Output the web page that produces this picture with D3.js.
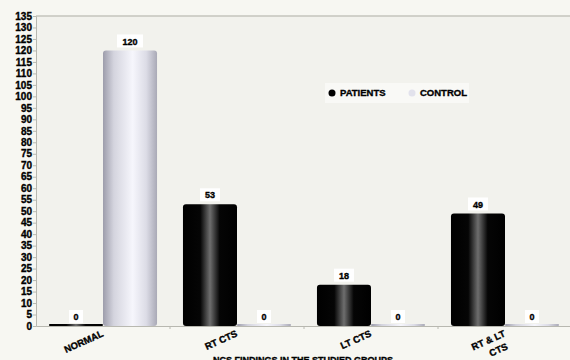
<!DOCTYPE html>
<html>
<head>
<meta charset="utf-8">
<script src="https://cdn.jsdelivr.net/npm/d3@7"></script>
<style>
  body { margin: 0; background: #f7f7f2; }
  svg { display: block; font-family: "Liberation Sans", Arial, sans-serif; font-weight: bold; }
  svg text { stroke: #000; stroke-width: 0.35px; }
</style>
</head>
<body>
<svg id="chart"></svg>
<script>
// chart data
var categories = ["NORMAL", "RT CTS", "LT CTS", "RT & LT CTS"];
var seriesNames = ["PATIENTS", "CONTROL"];
var patients = [0, 53, 18, 49];
var control = [120, 0, 0, 0];
var yTicks = d3.range(0, 136, 5);
var xTitle = "NCS FINDINGS IN THE STUDIED GROUPS";

var width = 570, height = 360;
var plotLeft = 36, plotRight = 572, plotTop = 16, plotBottom = 326;

var svg = d3.select("#chart").attr("width", width).attr("height", height);

// gradients for the cylinder look
var defs = svg.append("defs");
var gP = defs.append("linearGradient").attr("id", "gradP");
[[0, "#000"], [0.32, "#050505"], [0.5, "#6e6e6e"], [0.68, "#050505"], [1, "#000"]].forEach(function (s) {
    gP.append("stop").attr("offset", s[0]).attr("stop-color", s[1]);
});
var gC = defs.append("linearGradient").attr("id", "gradC");
[[0, "#9d9dab"], [0.2, "#d4d4de"], [0.55, "#f6f6fc"], [0.8, "#dcdce6"], [1, "#a9a9b6"]].forEach(function (s) {
    gC.append("stop").attr("offset", s[0]).attr("stop-color", s[1]);
});

// plot area background
svg.append("rect")
    .attr("x", plotLeft).attr("y", plotTop)
    .attr("width", plotRight - plotLeft).attr("height", plotBottom - plotTop)
    .attr("fill", "#f2f2ed");
svg.append("line")
    .attr("x1", plotLeft).attr("x2", plotRight).attr("y1", plotTop).attr("y2", plotTop)
    .attr("stroke", "#c4c4bc").attr("stroke-width", 1.5);

// scales
var x0 = d3.scaleBand().domain(categories).range([plotLeft, plotRight]).padding(0);
var x1 = d3.scaleBand().domain(seriesNames).range([0, x0.bandwidth()])
    .paddingInner(0).paddingOuter(0.24);
var y = d3.scaleLinear().domain([0, 135]).range([plotBottom, plotTop]);

// y axis
var yAxis = svg.append("g")
    .attr("transform", "translate(" + plotLeft + ",0)")
    .call(d3.axisLeft(y).tickValues(yTicks).tickSize(3).tickPadding(1));
yAxis.select(".domain").attr("stroke", "#b8b8b0");
yAxis.selectAll(".tick line").attr("stroke", "#b8b8b0");
yAxis.selectAll("text").attr("font-size", 10).attr("font-weight", "bold").attr("fill", "#000")
    .attr("font-family", "Liberation Sans, Arial, sans-serif");

// x axis
var xAxis = svg.append("g")
    .attr("transform", "translate(0," + plotBottom + ")")
    .call(d3.axisBottom(x0).tickSize(0).tickFormat(""));
xAxis.select(".domain").attr("stroke", "#b8b8b0");
svg.selectAll(".xtick")
    .data(categories.slice(1))
    .enter().append("line")
    .attr("x1", function (d) { return x0(d); })
    .attr("x2", function (d) { return x0(d); })
    .attr("y1", plotBottom).attr("y2", plotBottom + 3)
    .attr("stroke", "#b8b8b0");

// bars
var rows = categories.map(function (c, i) {
    return [
        { cat: c, s: "PATIENTS", v: patients[i] },
        { cat: c, s: "CONTROL", v: control[i] }
    ];
});
var groups = svg.selectAll(".grp")
    .data(rows)
    .enter().append("g")
    .attr("transform", function (d) { return "translate(" + x0(d[0].cat) + ",0)"; });

groups.selectAll("rect.bar")
    .data(function (d) { return d; })
    .enter().append("rect")
    .attr("class", "bar")
    .attr("x", function (d) { return x1(d.s); })
    .attr("width", x1.bandwidth())
    .attr("y", function (d) { return d.v > 0 ? y(d.v) : plotBottom - 2; })
    .attr("height", function (d) { return d.v > 0 ? plotBottom - y(d.v) : 2; })
    .attr("rx", function (d) { return d.v > 0 ? 3 : 1; })
    .attr("fill", function (d) { return d.s === "PATIENTS" ? "url(#gradP)" : "url(#gradC)"; });

// value labels
var labels = groups.selectAll("g.lbl")
    .data(function (d) { return d; })
    .enter().append("g")
    .attr("class", "lbl")
    .attr("transform", function (d) {
        return "translate(" + (x1(d.s) + x1.bandwidth() / 2) + "," + (y(d.v) - 9) + ")";
    });
labels.append("rect")
    .attr("x", function (d) { return -(String(d.v).length * 3 + 4); })
    .attr("width", function (d) { return String(d.v).length * 6 + 8; })
    .attr("y", -7).attr("height", 13)
    .attr("fill", "#fff");
labels.append("text")
    .attr("text-anchor", "middle")
    .attr("dy", "0.35em")
    .attr("font-size", 9)
    .text(function (d) { return d.v; });

// category labels, rotated
var catText = svg.selectAll(".cat")
    .data(categories)
    .enter().append("text")
    .attr("class", "cat")
    .attr("font-size", 9.5)
    .attr("text-anchor", "end")
    .attr("transform", function (d) {
        return "translate(" + (x0(d) + x0.bandwidth() / 2 + 1) + "," + (plotBottom + 10) + ") rotate(-24)";
    });
catText.each(function (d) {
    var lines = d === "RT & LT CTS" ? ["RT & LT", "CTS"] : [d];
    var t = d3.select(this);
    lines.forEach(function (l, i) {
        t.append("tspan").attr("x", i === 0 ? 0 : -3).attr("dy", i === 0 ? 0 : "1.35em").text(l);
    });
});

// axis title
svg.append("text")
    .attr("x", 303).attr("y", 363)
    .attr("text-anchor", "middle")
    .attr("font-size", 9)
    .text(xTitle);

// legend
var legend = svg.append("g").attr("transform", "translate(325,83)");
legend.append("rect").attr("width", 144).attr("height", 20).attr("fill", "#f9f9f6");
var legendX = [7, 87];
seriesNames.forEach(function (s, i) {
    legend.append("circle")
        .attr("cx", legendX[i]).attr("cy", 10).attr("r", 3.5)
        .attr("fill", s === "PATIENTS" ? "#000" : "#e2e2ec");
    legend.append("text")
        .attr("x", legendX[i] + 8).attr("y", 10).attr("dy", "0.35em")
        .attr("font-size", 9.5)
        .text(s);
});
</script>
</body>
</html>
